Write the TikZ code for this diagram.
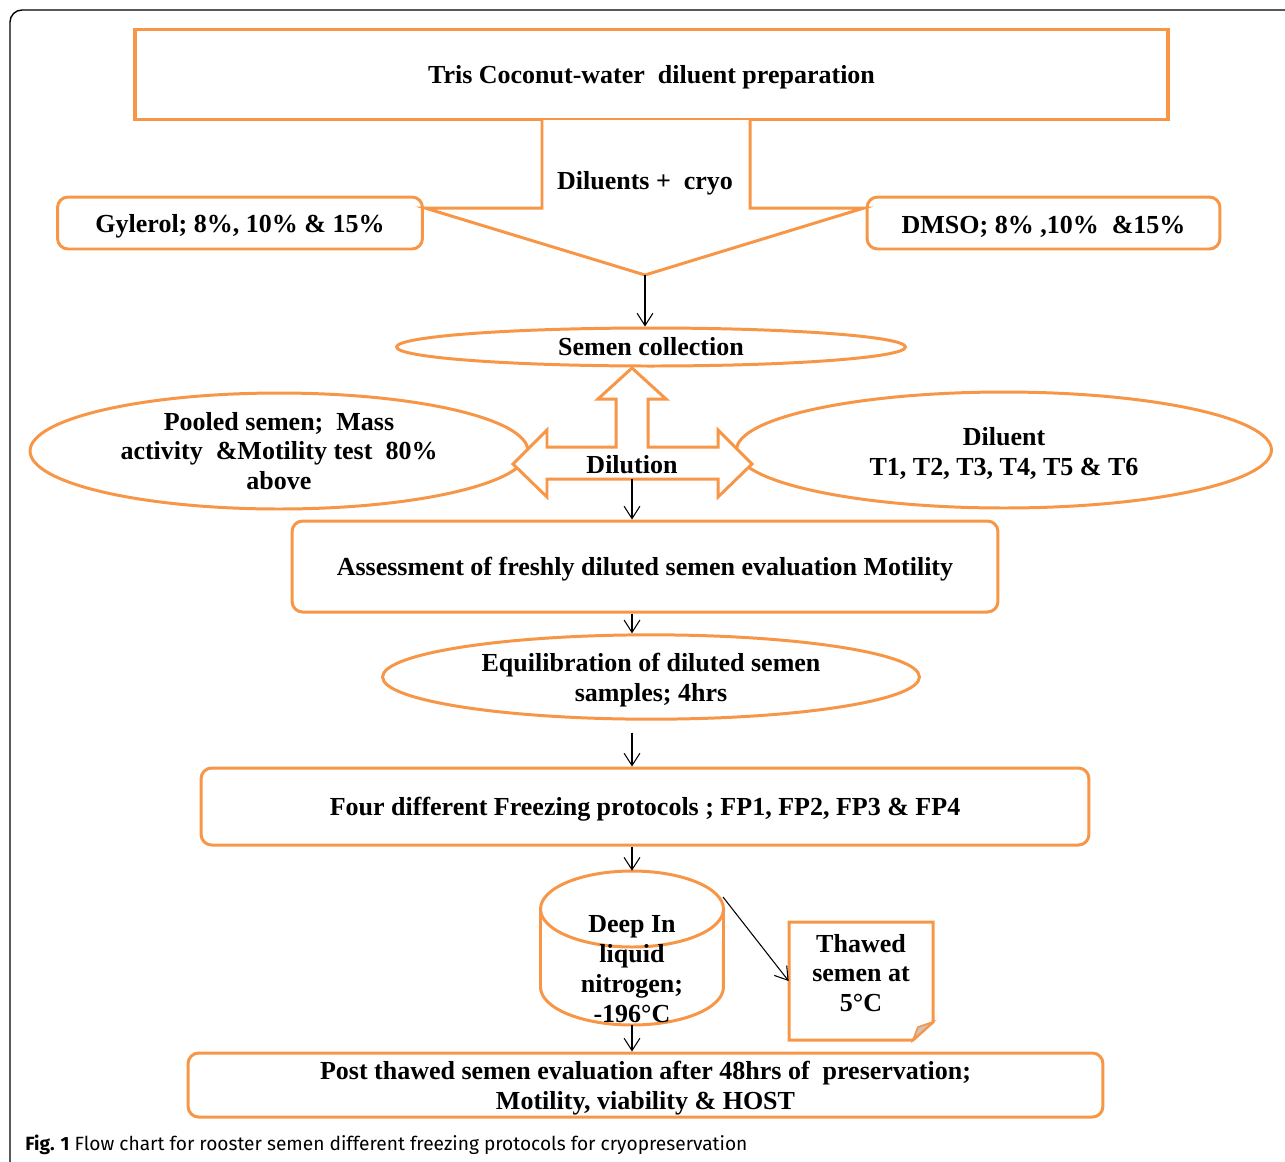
\documentclass[tikz,border=0pt]{standalone}
\usepackage{fontspec}
\setmainfont{Liberation Serif}
\newfontfamily\capfont{Fira Sans}
\usetikzlibrary{shapes.geometric,arrows.meta,calc}
\definecolor{orng}{RGB}{247,150,70}
\tikzset{
  txt/.style={font=\bfseries\fontsize{14.8}{17}\selectfont, align=center, text=black},
  lowtxt/.style={execute at begin node={\rule{0pt}{13.8pt}}},
  rbox/.style={txt, draw=orng, line width=1.7pt, rounded corners=6pt, fill=white},
  ebox/.style={txt, ellipse, draw=orng, line width=1.7pt, inner sep=0pt, fill=white},
  oline/.style={draw=orng, line width=1.7pt, line join=miter},
  arr/.style={draw=black, line width=0.6pt, -{Straight Barb[length=7pt,width=9pt,line width=0.6pt]}},
}
\begin{document}
\begin{tikzpicture}[x=0.02cm, y=-0.02cm]
\useasboundingbox (0,0) rectangle (1285,1161);
% outer frame
\draw[black, line width=0.8pt] (1290,10) -- (22,10) arc[start angle=90, end angle=180, radius=0.24cm] -- (10,1170);

% top box
\node[txt, lowtxt, draw=orng, line width=2pt, minimum width=20.66cm, minimum height=1.8cm] (top) at (651.5,74.5) {Tris Coconut-water\ \ diluent preparation};

% side boxes
\node[rbox, lowtxt, minimum width=7.3cm, minimum height=1.04cm] (gyl) at (240,223) {Gylerol; 8\%, 10\% \& 15\%};
\node[rbox, lowtxt, minimum width=7.06cm, minimum height=1.04cm] (dmso) at (1043.5,223) {DMSO; 8\% ,10\%\ \ \&15\%};

% block arrow down
\coordinate (dtip) at (645,275);
\draw[oline, fill=white] (542,120) -- (542,208) -- (425,208) -- (dtip) -- (864,208) -- (750,208) -- (750,120);
\node[txt] (cryo) at (645,183) {Diluents +\ \ cryo};

% semen collection
\node[ebox, minimum width=10.18cm, minimum height=0.76cm] (semen) at (651,347) {Semen collection};
\draw[arr] (dtip) -- (dtip |- semen.north);

% side ellipses
\node[ebox, minimum width=9.96cm, minimum height=2.32cm] (pooled) at (279,451) {Pooled semen;\ \ Mass\\activity\ \ \&Motility test\ \ 80\%\\above};
\node[ebox, minimum width=10.7cm, minimum height=2.32cm] (dil) at (1004,450) {\rule{0pt}{13.8pt}Diluent\\T1, T2, T3, T4, T5 \& T6};

% three-way block arrow
\draw[oline, fill=white] (632,368) -- (666,399) -- (648,399) -- (648,447) -- (718,447) -- (718,430) -- (752,464) -- (718,497) -- (718,479) -- (547,479) -- (547,497) -- (513,464) -- (547,430) -- (547,447) -- (616,447) -- (616,399) -- (598,399) -- cycle;
\node[txt] (dilution) at (632,465) {Dilution};
\coordinate (dilb) at (632,479);

% assessment
\node[rbox, lowtxt, minimum width=14.12cm, minimum height=1.82cm] (assess) at (645,566.5) {Assessment of freshly diluted semen evaluation Motility};
\draw[arr] (dilb) -- (dilb |- assess.north);

% equilibration
\node[ebox, minimum width=10.74cm, minimum height=1.56cm] (equil) at (651,677) {\rule{0pt}{13.8pt}Equilibration of diluted semen\\samples; 4hrs};
\draw[arr] (assess.south -| dilb) -- (dilb |- equil.north);

% four protocols
\node[rbox, lowtxt, minimum width=17.76cm, minimum height=1.54cm] (four) at (645,806.5) {Four different Freezing protocols ; FP1, FP2, FP3 \& FP4};
\draw[arr, shorten <=0.24cm] (equil.south -| dilb) -- (dilb |- four.north);

% cylinder
\draw[oline, fill=white] (540.5,909) -- (540.5,987) arc[start angle=180, end angle=360, x radius=1.83cm, y radius=0.76cm] -- (723.5,909);
\draw[oline, fill=white] (632,909) ellipse [x radius=1.83cm, y radius=0.76cm];
\node[txt, minimum width=3.66cm, minimum height=3.08cm] (tank) at (632,948) {};
\node[txt] (tanktxt) at (632,969) {Deep In\\liquid\\nitrogen;\\-196°C};
\draw[arr] (four.south -| dilb) -- (tank.north);
\coordinate (tanktr) at (723,897);

% thawed note
\node[txt, minimum width=2.88cm, minimum height=2.36cm] (thawed) at (861,981) {};
\draw[oline, fill=white] (789,922) -- (933,922) -- (933,1022) -- (913,1040) -- (789,1040) -- cycle;
\draw[orng, line width=1pt, fill=gray!45] (933,1022) -- (913,1040) -- (918,1027) -- cycle;
\node[txt] (thawtxt) at (861,973) {Thawed\\semen at\\5°C};
\draw[arr] (tanktr) -- (thawed.west);

% post thawed
\node[rbox, inner ysep=0pt, minimum width=18.3cm, minimum height=1.28cm] (post) at (645.5,1085) {\rule{0pt}{13.8pt}Post thawed semen evaluation after 48hrs of\ \ preservation;\\Motility, viability \& HOST};
\draw[arr] (tank.south) -- (tank.south |- post.north);

% caption
\node[anchor=west, inner sep=0pt, font=\capfont\fontsize{10.9}{13}\selectfont] (cap) at (25,1145) {\textbf{Fig. 1} Flow chart for rooster semen different freezing protocols for cryopreservation};
\end{tikzpicture}
\end{document}
